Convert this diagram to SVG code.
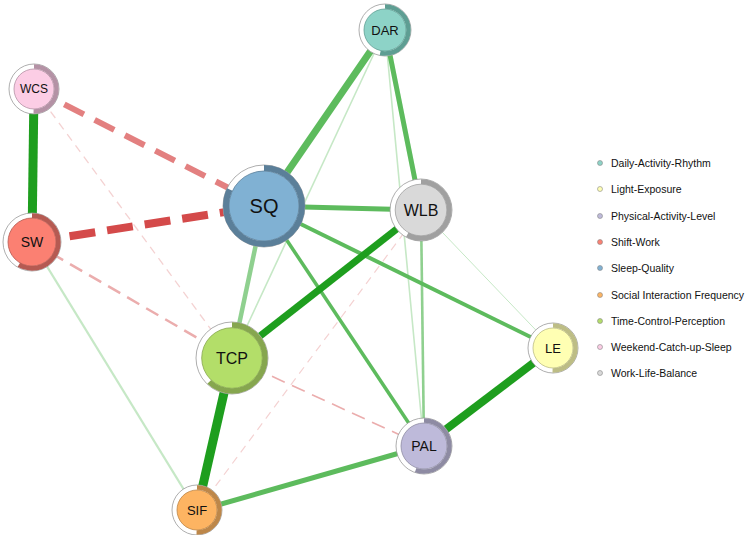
<svg xmlns="http://www.w3.org/2000/svg" width="750" height="535" viewBox="0 0 750 535">
<style>
.lbl{font-family:"Liberation Sans",Arial,sans-serif;fill:#111;text-anchor:middle;dominant-baseline:central}
.leg{font-family:"Liberation Sans",Arial,sans-serif;font-size:10.5px;fill:#111;dominant-baseline:central}
.pos1{stroke:#1E9E1E;fill:none}
.pos2{stroke:#5DBB5D;fill:none}
.pos3{stroke:#8FD08F;fill:none}
.pos4{stroke:#C6E8C6;fill:none}
.neg1{stroke:#D44A4A;fill:none;stroke-dasharray:26 12}
.neg2{stroke:#E38080;fill:none;stroke-dasharray:22 12}
.neg3{stroke:#EBADAD;fill:none;stroke-dasharray:14 8}
.neg4{stroke:#F4D2D2;fill:none;stroke-dasharray:8 6}
.outer{fill:#fff;stroke:#999;stroke-width:0.8}
.inner{stroke-width:0.8}
.dot{stroke:#888;stroke-width:0.6}
</style>
<rect width="750" height="535" fill="#fff"/>
<g id="connectors">
<line class="neg4" x1="34" y1="89" x2="232" y2="358" stroke-width="1.3"/>
<line class="neg4" x1="421" y1="210" x2="197" y2="511" stroke-width="1.2"/>
<line class="neg3" x1="232" y1="358" x2="424" y2="446" stroke-width="1.6"/>
<line class="neg3" x1="32" y1="242" x2="232" y2="358" stroke-width="2.5"/>
<line class="pos4" x1="32" y1="242" x2="197" y2="511" stroke-width="2.2"/>
<line class="pos4" x1="385" y1="30" x2="232" y2="358" stroke-width="1.6"/>
<line class="pos4" x1="385" y1="30" x2="424" y2="446" stroke-width="1.6"/>
<line class="pos4" x1="421" y1="210" x2="553" y2="348" stroke-width="1"/>
<line class="pos3" x1="421" y1="210" x2="424" y2="446" stroke-width="2.6"/>
<line class="pos3" x1="264" y1="206" x2="232" y2="358" stroke-width="4.5"/>
<line class="pos2" x1="264" y1="206" x2="424" y2="446" stroke-width="3.5"/>
<line class="pos2" x1="264" y1="206" x2="553" y2="348" stroke-width="4"/>
<line class="pos2" x1="264" y1="206" x2="421" y2="210" stroke-width="5"/>
<line class="pos2" x1="385" y1="30" x2="421" y2="210" stroke-width="5"/>
<line class="pos2" x1="385" y1="30" x2="264" y2="206" stroke-width="7"/>
<line class="pos2" x1="197" y1="511" x2="424" y2="446" stroke-width="5"/>
<line class="pos1" x1="421" y1="210" x2="232" y2="358" stroke-width="7" stroke="#3DB03D"/>
<line class="pos1" x1="424" y1="446" x2="553" y2="348" stroke-width="8" stroke="#2CA82C"/>
<line class="pos1" x1="232" y1="358" x2="197" y2="511" stroke-width="9"/>
<line class="pos1" x1="34" y1="89" x2="32" y2="242" stroke-width="9"/>
<line class="neg2" x1="34" y1="89" x2="264" y2="206" stroke-width="6"/>
<line class="neg1" x1="32" y1="242" x2="264" y2="206" stroke-width="8"/>
</g>
<g id="node-DAR">
<circle class="outer" cx="385" cy="30" r="26"/>
<circle cx="385" cy="30" r="23.5" fill="none" stroke="#5E9E93" stroke-width="4.5" stroke-dasharray="78.3 200" transform="rotate(-90 385 30)"/>
<circle class="inner" cx="385" cy="30" r="21" fill="#8DD3C7" stroke="#5E9E93"/>
<text class="lbl" x="385" y="30" font-size="13">DAR</text>
</g>
<g id="node-WCS">
<circle class="outer" cx="34" cy="89" r="25"/>
<circle cx="34" cy="89" r="22.5" fill="none" stroke="#B492A5" stroke-width="4.5" stroke-dasharray="70.7 200" transform="rotate(-90 34 89)"/>
<circle class="inner" cx="34" cy="89" r="20" fill="#FCCDE5" stroke="#B492A5"/>
<text class="lbl" x="34" y="89" font-size="12">WCS</text>
</g>
<g id="node-SW">
<circle class="outer" cx="32" cy="242" r="29"/>
<circle cx="32" cy="242" r="26.3" fill="none" stroke="#B55A52" stroke-width="4.8" stroke-dasharray="95.8 200" transform="rotate(-90 32 242)"/>
<circle class="inner" cx="32" cy="242" r="24" fill="#FB8072" stroke="#B55A52"/>
<text class="lbl" x="32" y="242" font-size="14">SW</text>
</g>
<g id="node-SQ">
<circle class="outer" cx="264" cy="206" r="41"/>
<circle cx="264" cy="206" r="38" fill="none" stroke="#5B7F99" stroke-width="6" stroke-dasharray="195.8 300" transform="rotate(-90 264 206)"/>
<circle class="inner" cx="264" cy="206" r="35" fill="#80B1D3" stroke="#5B7F99"/>
<text class="lbl" x="264" y="206" font-size="20">SQ</text>
</g>
<g id="node-WLB">
<circle class="outer" cx="421" cy="210" r="31"/>
<circle cx="421" cy="210" r="28.3" fill="none" stroke="#A0A0A0" stroke-width="5" stroke-dasharray="103.1 200" transform="rotate(-90 421 210)"/>
<circle class="inner" cx="421" cy="210" r="25.8" fill="#D9D9D9" stroke="#A0A0A0"/>
<text class="lbl" x="421" y="210" font-size="16">WLB</text>
</g>
<g id="node-TCP">
<circle class="outer" cx="232" cy="358" r="36"/>
<circle cx="232" cy="358" r="33" fill="none" stroke="#86A64F" stroke-width="5.5" stroke-dasharray="128.6 300" transform="rotate(-90 232 358)"/>
<circle class="inner" cx="232" cy="358" r="30.3" fill="#B3DE69" stroke="#86A64F"/>
<text class="lbl" x="232" y="358" font-size="16">TCP</text>
</g>
<g id="node-LE">
<circle class="outer" cx="553" cy="348" r="25"/>
<circle cx="553" cy="348" r="22.5" fill="none" stroke="#BDBD85" stroke-width="4.5" stroke-dasharray="70.7 200" transform="rotate(-90 553 348)"/>
<circle class="inner" cx="553" cy="348" r="20" fill="#FFFFB3" stroke="#BDBD85"/>
<text class="lbl" x="553" y="348" font-size="13">LE</text>
</g>
<g id="node-PAL">
<circle class="outer" cx="424" cy="446" r="28"/>
<circle cx="424" cy="446" r="25.5" fill="none" stroke="#8E8BA3" stroke-width="4.5" stroke-dasharray="88.1 200" transform="rotate(-90 424 446)"/>
<circle class="inner" cx="424" cy="446" r="23" fill="#BEBADA" stroke="#8E8BA3"/>
<text class="lbl" x="424" y="446" font-size="14">PAL</text>
</g>
<g id="node-SIF">
<circle class="outer" cx="197" cy="510" r="25"/>
<circle cx="197" cy="510" r="22.5" fill="none" stroke="#BD8749" stroke-width="4.5" stroke-dasharray="70.7 200" transform="rotate(-90 197 510)"/>
<circle class="inner" cx="197" cy="510" r="20" fill="#FDB462" stroke="#BD8749"/>
<text class="lbl" x="197" y="510" font-size="13">SIF</text>
</g>
<g id="legend">
<circle class="dot" cx="600" cy="163" r="2.5" fill="#8DD3C7"/><text class="leg" x="611" y="163">Daily-Activity-Rhythm</text>
<circle class="dot" cx="600" cy="189" r="2.5" fill="#FFFFB3"/><text class="leg" x="611" y="189">Light-Exposure</text>
<circle class="dot" cx="600" cy="216" r="2.5" fill="#BEBADA"/><text class="leg" x="611" y="216">Physical-Activity-Level</text>
<circle class="dot" cx="600" cy="242" r="2.5" fill="#FB8072"/><text class="leg" x="611" y="242">Shift-Work</text>
<circle class="dot" cx="600" cy="268" r="2.5" fill="#80B1D3"/><text class="leg" x="611" y="268">Sleep-Quality</text>
<circle class="dot" cx="600" cy="295" r="2.5" fill="#FDB462"/><text class="leg" x="611" y="295">Social Interaction Frequency</text>
<circle class="dot" cx="600" cy="321" r="2.5" fill="#B3DE69"/><text class="leg" x="611" y="321">Time-Control-Perception</text>
<circle class="dot" cx="600" cy="347" r="2.5" fill="#FCCDE5"/><text class="leg" x="611" y="347">Weekend-Catch-up-Sleep</text>
<circle class="dot" cx="600" cy="373" r="2.5" fill="#D9D9D9"/><text class="leg" x="611" y="373">Work-Life-Balance</text>
</g>
</svg>
